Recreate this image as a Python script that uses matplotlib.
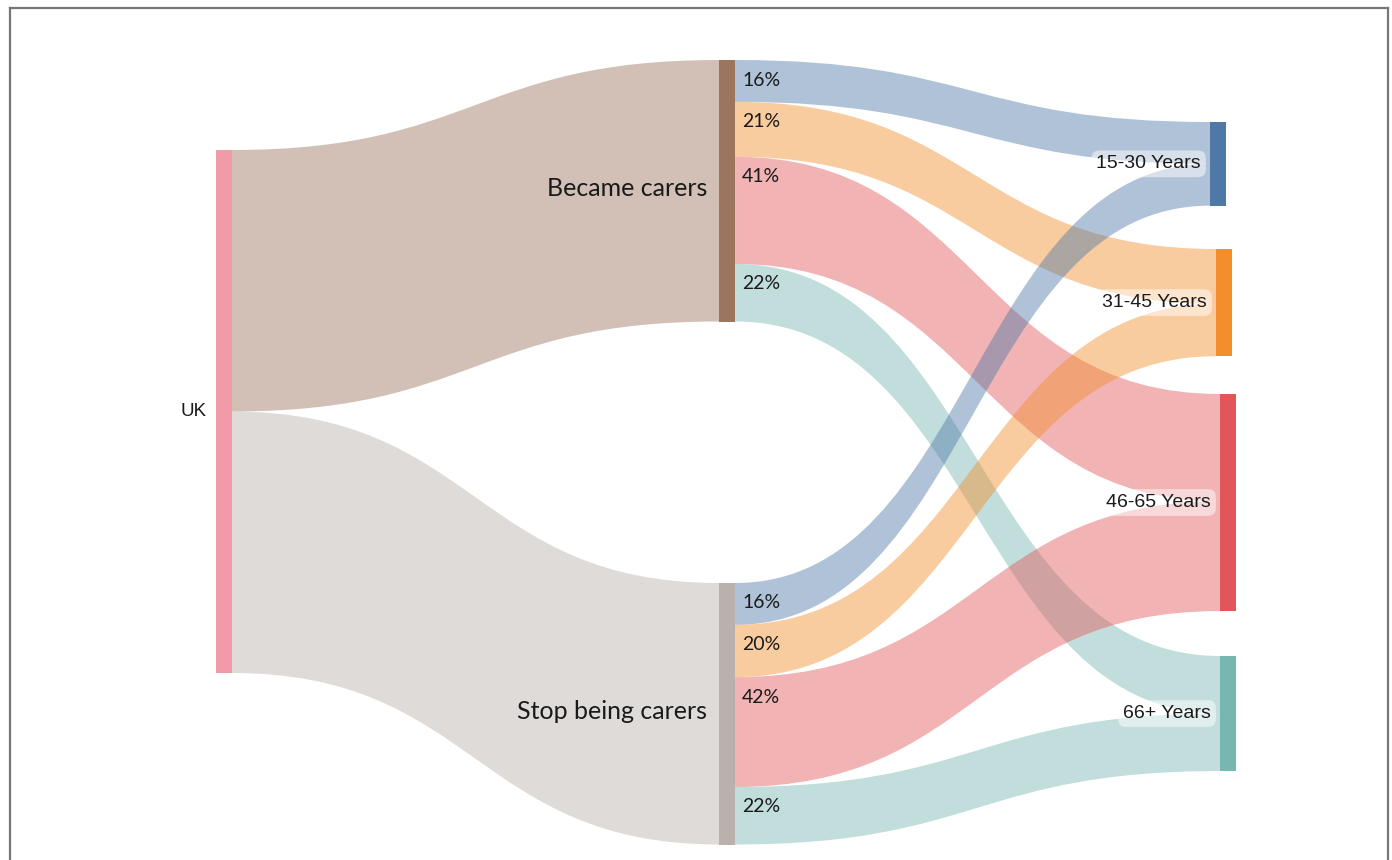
import matplotlib
matplotlib.use("Agg")
import matplotlib.pyplot as plt
from matplotlib.path import Path
from matplotlib.patches import PathPatch, Rectangle
from matplotlib.lines import Line2D

# ---------------- data ----------------
root_name = "UK"
source_names = ["Became carers", "Stop being carers"]
age_groups = ["15-30 Years", "31-45 Years", "46-65 Years", "66+ Years"]
became_pct = [16, 21, 41, 22]
stop_pct = [16, 20, 42, 22]
flows = [became_pct, stop_pct]

# ---------------- style ----------------
root_color = "#f19ba8"
source_colors = ["#9c755f", "#bab0ac"]
age_colors = ["#4e79a7", "#f28e2b", "#e15759", "#76b7b2"]
link_alpha = 0.45

W, H = 1392, 860
fig = plt.figure(figsize=(W / 100, H / 100), dpi=100)
ax = fig.add_axes([0, 0, 1, 1])
ax.set_xlim(0, W)
ax.set_ylim(H, 0)
ax.axis("off")

# layout (pixel space)
scale = 2.615         # px per unit
node_w = 16
root_x, root_top = 216, 150
source_x = [719, 719]
source_top = [60, 583]
age_x = [1210, 1216, 1220, 1220]
age_top = [122, 249, 394, 656]


def link(x0, y0a, y0b, x1, y1a, y1b, color):
    xm = (x0 + x1) / 2
    verts = [(x0, y0a), (xm, y0a), (xm, y1a), (x1, y1a),
             (x1, y1b), (xm, y1b), (xm, y0b), (x0, y0b), (x0, y0a)]
    codes = [Path.MOVETO, Path.CURVE4, Path.CURVE4, Path.CURVE4,
             Path.LINETO, Path.CURVE4, Path.CURVE4, Path.CURVE4, Path.CLOSEPOLY]
    ax.add_patch(PathPatch(Path(verts, codes), facecolor=color, alpha=link_alpha,
                           edgecolor="none", zorder=1))


source_totals = [sum(f) for f in flows]
root_total = sum(source_totals)

# root -> sources
y_root = root_top
for i, tot in enumerate(source_totals):
    h = tot * scale
    link(root_x + node_w, y_root, y_root + h,
         source_x[i], source_top[i], source_top[i] + h, source_colors[i])
    y_root += h

# sources -> ages
age_in = [0.0] * len(age_groups)
for i, f in enumerate(flows):
    y_src = source_top[i]
    for j, v in enumerate(f):
        h = v * scale
        ya = age_top[j] + age_in[j]
        link(source_x[i] + node_w, y_src, y_src + h,
             age_x[j], ya, ya + h, age_colors[j])
        ax.text(source_x[i] + node_w + 7, y_src + min(20, h / 2), f"{v}%",
                family="Lato", fontsize=14, color="#1a1a1a",
                ha="left", va="center", zorder=5)
        age_in[j] += h
        y_src += h

# nodes
ax.add_patch(Rectangle((root_x, root_top), node_w, root_total * scale,
                       facecolor=root_color, edgecolor="none", zorder=3))
ax.text(root_x - 9, root_top + root_total * scale / 2, root_name,
        family="Liberation Sans", fontsize=13.5, color="#1a1a1a",
        ha="right", va="center", zorder=5)

for i, name in enumerate(source_names):
    h = source_totals[i] * scale
    ax.add_patch(Rectangle((source_x[i], source_top[i]), node_w, h,
                           facecolor=source_colors[i], edgecolor="none", zorder=3))
    ax.text(source_x[i] - 12, source_top[i] + h * 0.49, name, family="Lato",
            fontsize=18, color="#1a1a1a", ha="right", va="center", zorder=5)

for j, name in enumerate(age_groups):
    h = age_in[j]
    ax.add_patch(Rectangle((age_x[j], age_top[j]), node_w, h,
                           facecolor=age_colors[j], edgecolor="none", zorder=3))
    ax.text(age_x[j] - 9, age_top[j] + h / 2, name, family="Liberation Sans",
            fontsize=14, color="#1a1a1a", ha="right", va="center", zorder=5,
            bbox=dict(boxstyle="round,pad=0.25,rounding_size=0.4",
                      facecolor="white", alpha=0.5, edgecolor="none"))

# frame (top, left, right)
lc = "#777777"
ax.add_line(Line2D([10, 1388], [8, 8], color=lc, lw=1.6, zorder=10))
ax.add_line(Line2D([10, 10], [8, H], color=lc, lw=1.6, zorder=10))
ax.add_line(Line2D([1388, 1388], [8, H], color=lc, lw=1.6, zorder=10))

fig.savefig("out.png", dpi=100, facecolor="white")
